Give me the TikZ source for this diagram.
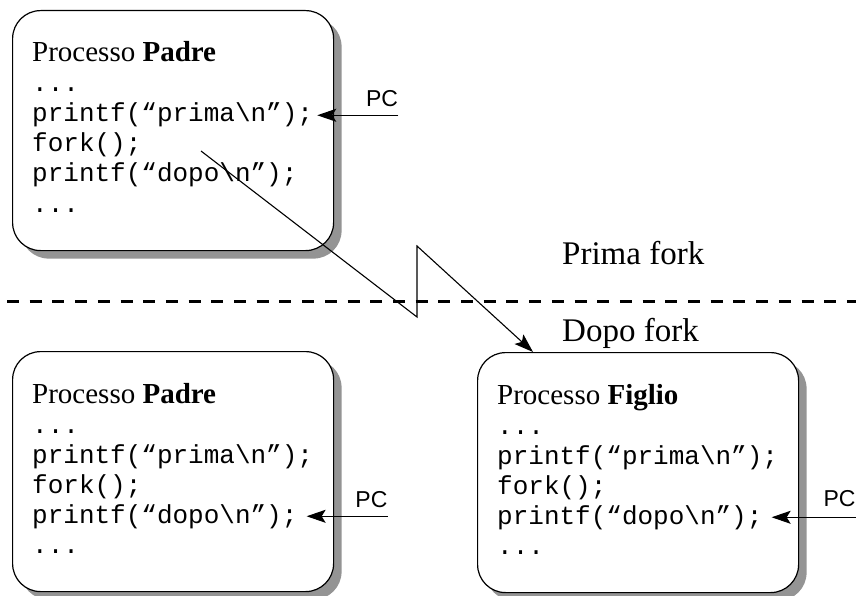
\documentclass[tikz,border=0pt]{standalone}
\usepackage{fontspec}
\setmainfont{Liberation Serif}
\setsansfont{Liberation Sans}
\setmonofont{Liberation Mono}
\usetikzlibrary{calc, positioning, shadows, arrows.meta}

\tikzset{
  processo/.style={draw, line width=1.2pt, fill=white, rounded corners=28pt,
    minimum width=321pt, minimum height=240pt, anchor=north west,
    drop shadow={shadow xshift=8pt, shadow yshift=-8pt, fill=black!42, opacity=1}},
  titolo/.style={anchor=base west, inner sep=0pt, font=\fontsize{29}{30}\selectfont},
  codice/.style={anchor=base west, inner sep=0pt, font=\ttfamily\fontsize{26}{30}\selectfont},
  pc/.style={inner sep=0pt, font=\sffamily\fontsize{23}{24}\selectfont},
  fase/.style={anchor=base west, inner sep=0pt, font=\fontsize{33}{34}\selectfont},
  freccia/.style={line width=1.1pt, -{Stealth[length=19pt, width=13pt, inset=4pt]}},
}

\begin{document}
\begin{tikzpicture}[x=1pt, y=-1pt]
  \useasboundingbox (0,0) rectangle (856,596);
  % i tre processi: A = padre prima, B = padre dopo, C = figlio
  \foreach \b/\x/\y/\nome in {A/12/10/Padre, B/12/351/Padre, C/477/352/Figlio} {
    \node[processo] (\b) at (\x,\y) {};
    \node[titolo] (\b-t) at ($(\b.north west)+(20,52)$) {Processo \textbf{\nome}};
    \node[codice] (\b-0) at ($(\b.north west)+(20,82)$) {...};
    \node[codice] (\b-1) at ($(\b.north west)+(20,112)$) {printf(“prima\textbackslash n”);};
    \node[codice] (\b-2) at ($(\b.north west)+(20,142)$) {fork();};
    \node[codice] (\b-3) at ($(\b.north west)+(20,172)$) {printf(“dopo\textbackslash n”);};
    \node[codice] (\b-4) at ($(\b.north west)+(20,202)$) {...};
  }
  % program counter
  \path (A-1.east) ++(85,0) coordinate (A-pc);
  \path (B-3.east) ++(90,0) coordinate (B-pc);
  \path (C-3.east) ++(93,0) coordinate (C-pc);
  \node[pc, above left=8pt and 0pt of A-pc] (pcA) {PC};
  \node[pc, above left=8pt and 0pt of B-pc] (pcB) {PC};
  \node[pc, above left=10pt and 0pt of C-pc] (pcC) {PC};
  \draw[freccia, shorten >=4pt] (A-pc) -- (A-1.east);
  \draw[freccia, shorten >=9pt] (B-pc) -- (B-3.east);
  \draw[freccia, shorten >=9pt] (C-pc) -- (C-3.east);
  % separatore prima/dopo
  \draw[line width=3pt, dash pattern=on 12pt off 10.7pt] (7,301) -- (856,301);
  \node[fase] (prima) at (562,264) {Prima fork};
  \node[fase] (dopo) at (562,341) {Dopo fork};
  % fulmine della fork
  \coordinate (F1) at (201,151);
  \coordinate (F2) at (417,317);
  \coordinate (F3) at (417,246);
  \draw[freccia] (F1) -- (F2) -- (F3) -- ($(C.north west)+(56,0)$);
\end{tikzpicture}
\end{document}
